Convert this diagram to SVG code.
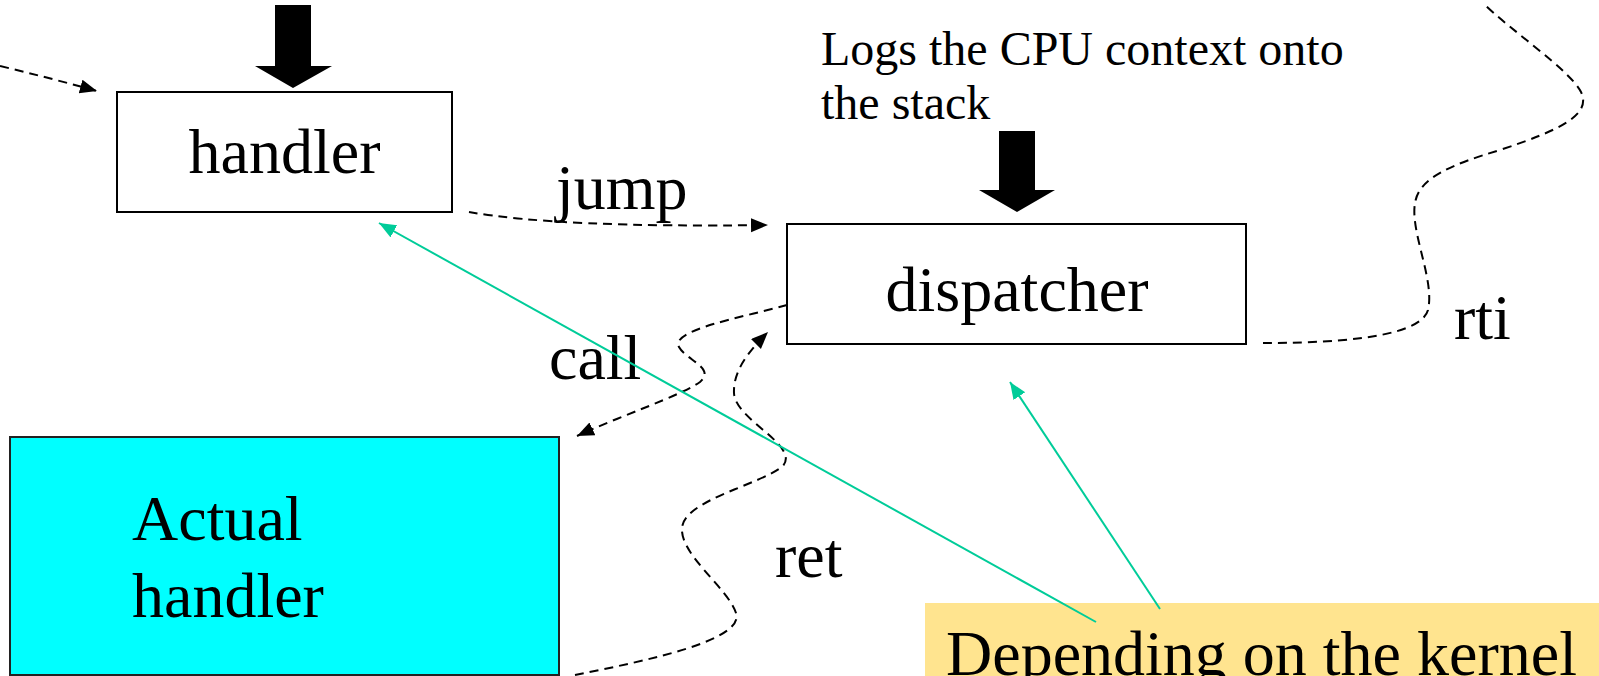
<svg xmlns="http://www.w3.org/2000/svg" width="1599" height="676" viewBox="0 0 1599 676">
<style>
  text { font-family: "Liberation Serif", "Times New Roman", serif; fill: #000; }
  .big { font-size: 64px; }
  .note { font-size: 48px; }
  .box { fill: #fff; stroke: #000; stroke-width: 2; }
  .dash { fill: none; stroke: #000; stroke-width: 2; stroke-dasharray: 9 6; }
  .green { fill: none; stroke: #00cc99; stroke-width: 2; }
  .fat { fill: #000; }
</style>
<defs>
  <marker id="ah" markerUnits="userSpaceOnUse" markerWidth="20" markerHeight="16" refX="17" refY="7" orient="auto">
    <path d="M0,0 L17,7 L0,14 Z" fill="#000"/>
  </marker>
  <marker id="gh" markerUnits="userSpaceOnUse" markerWidth="20" markerHeight="16" refX="17" refY="7" orient="auto">
    <path d="M0,0 L17,7 L0,14 Z" fill="#00cc99"/>
  </marker>
</defs>
<rect width="1599" height="676" fill="#fff"/>

<g id="handler">
  <rect class="box" x="117" y="92" width="335" height="120"/>
  <text class="big" x="284.5" y="173" text-anchor="middle">handler</text>
</g>
<g id="dispatcher">
  <rect class="box" x="787" y="224" width="459" height="120"/>
  <text class="big" x="1017" y="311" text-anchor="middle">dispatcher</text>
</g>
<g id="actual-handler">
  <rect x="10" y="437" width="549" height="238" fill="#00ffff" stroke="#222" stroke-width="2"/>
  <text class="big" x="132" y="540">Actual</text>
  <text class="big" x="132" y="617">handler</text>
</g>
<g id="note-logs">
  <text class="note" x="821" y="65">Logs the CPU context onto</text>
  <text class="note" x="821" y="119">the stack</text>
</g>
<g id="note-kernel">
  <rect x="925" y="603" width="674" height="73" fill="#ffe48f"/>
  <text class="big" x="946" y="675">Depending on the kernel</text>
</g>
<g id="fat-arrows">
  <path class="fat" d="M275,5 L311,5 L311,66 L332,66 L293,88 L255,66 L275,66 Z"/>
  <path class="fat" d="M999,131 L1035,131 L1035,190 L1055,190 L1017,212 L979,190 L999,190 Z"/>
</g>
<g id="labels">
  <text class="big" x="556" y="209">jump</text>
  <text class="big" x="549" y="379">call</text>
  <text class="big" x="775" y="577">ret</text>
  <text class="big" x="1454" y="339">rti</text>
</g>
<g id="connectors">
  <path class="dash" d="M0,66 Q50,78 97,91" marker-end="url(#ah)"/>
  <path class="dash" d="M469,212 Q560,228 768,225" marker-end="url(#ah)"/>
  <path class="dash" d="M787,305 C740,318 670,330 679,347 C686,360 716,368 700,382 C680,396 620,416 577,436" marker-end="url(#ah)"/>
  <path class="dash" d="M575,675 C650,660 745,640 736,613 C728,588 680,555 682,528 C684,500 760,485 783,466 C800,445 735,420 734,393 C733,370 750,350 768,332" marker-end="url(#ah)"/>
  <path class="dash" d="M1263,343 C1320,343 1420,340 1428,310 C1435,280 1410,232 1415,203 C1419,178 1450,165 1500,150 C1560,130 1592,115 1581,92 C1570,70 1510,30 1483,3"/>
  <path class="green" d="M1096,622 L379,223" marker-end="url(#gh)"/>
  <path class="green" d="M1160,609 L1010,382" marker-end="url(#gh)"/>
</g>
</svg>
